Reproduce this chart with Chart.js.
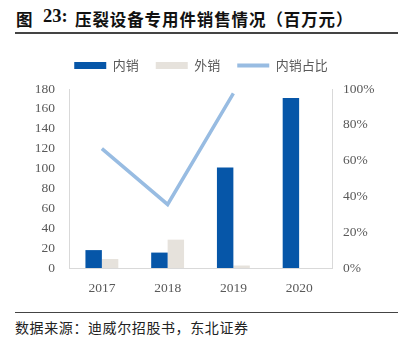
<!DOCTYPE html>
<html><head><meta charset="utf-8">
<script src="https://cdn.jsdelivr.net/npm/chart.js@4/dist/chart.umd.min.js"></script>
<style>
html,body{margin:0;padding:0;background:#fff;}
body{width:402px;height:343px;position:relative;overflow:hidden;font-family:"Noto Sans CJK SC",sans-serif;}
#title{position:absolute;left:16px;top:7px;font-size:16.5px;font-weight:700;color:#111;white-space:nowrap;}
#title span{position:absolute;top:0;}
#title .num{font-family:"Liberation Serif",serif;font-size:18.5px;top:-1px;}
#tline{position:absolute;left:15px;top:32px;width:383px;height:2px;background:#444;}
#bline{position:absolute;left:15px;top:312px;width:383px;height:1px;background:#444;}
#src{position:absolute;left:15px;top:317px;font-size:14px;letter-spacing:0.6px;color:#222;white-space:nowrap;}
#wrap{position:absolute;left:0;top:42px;width:402px;height:258px;}
</style></head>
<body>
<div id="title"><span style="left:0">图</span><span class="num" style="left:27px">23:</span><span style="left:59px;letter-spacing:0.9px">压裂设备专用件销售情况（百万元）</span></div>
<div id="tline"></div>
<div id="wrap"><canvas id="c"></canvas></div>
<div id="bline"></div>
<div id="src">数据来源：迪威尔招股书，东北证券</div>
<script>
const categories = ['2017','2018','2019','2020'];
const domesticSales = [18, 15.5, 101, 171];
const exportSales = [9, 28.5, 2.5, 0];
const domesticShare = [0.667, 0.355, 0.975, null];
const leftTicks = [0,20,40,60,80,100,120,140,160,180];
const rightTicks = [0,0.2,0.4,0.6,0.8,1.0];

const C_DOM = '#0656A8', C_EXP = '#E6E2DC', C_LINE = '#98BCE2';
const tickFont = {family:'"Liberation Serif", serif', size:13.5};
const legendExtra = {
  id:'legendExtra',
  afterInit(chart){
    const lg = chart.legend; const f = lg.fit;
    lg.fit = function(){ f.call(this); this.height += 7; };
  }
};
new Chart(document.getElementById('c'), {
  data:{
    labels: categories,
    datasets:[
      {type:'line', label:'内销占比', data: domesticShare, yAxisID:'y1', borderColor:C_LINE, backgroundColor:C_LINE, borderWidth:3.5, pointRadius:0, tension:0, order:0},
      {type:'bar', label:'内销', data: domesticSales, yAxisID:'y', backgroundColor:C_DOM, categoryPercentage:0.5, barPercentage:1.0, order:1},
      {type:'bar', label:'外销', data: exportSales, yAxisID:'y', backgroundColor:C_EXP, categoryPercentage:0.5, barPercentage:1.0, order:1}
    ]
  },
  options:{
    responsive:true, maintainAspectRatio:false, animation:false,
    layout:{padding:{left:0,right:0,top:0,bottom:0}},
    plugins:{
      tooltip:{enabled:false},
      legend:{
        position:'top',
        labels:{
          font:{family:'"Noto Sans CJK SC", sans-serif', size:13}, color:'#595959',
          usePointStyle:true, pointStyleWidth:32, boxWidth:32, boxHeight:7, padding:17,
          sort:(a,b)=>({'内销':0,'外销':1,'内销占比':2}[a.text]-({'内销':0,'外销':1,'内销占比':2}[b.text])),
          generateLabels(chart){
            return chart.data.datasets.map((ds,i)=>({
              text: ds.label, datasetIndex:i, fontColor:'#595959',
              pointStyle: ds.type==='line' ? 'line' : 'rect',
              fillStyle: ds.type==='line' ? 'rgba(0,0,0,0)' : ds.backgroundColor,
              strokeStyle: ds.type==='line' ? ds.borderColor : ds.backgroundColor,
              lineWidth: ds.type==='line' ? 4 : 0, hidden:false
            }));
          }
        }
      }
    },
    scales:{
      x:{
        grid:{display:false, drawTicks:false},
        border:{display:true, color:'#D9D9D9', width:1},
        ticks:{font:tickFont, color:'#595959', padding:12},
        afterFit(s){ s.height = 32; }
      },
      y:{
        position:'left', min:0, max:180,
        afterBuildTicks(s){ s.ticks = leftTicks.map(v=>({value:v})); },
        grid:{display:false, drawTicks:false},
        border:{display:true, color:'#D9D9D9', width:1},
        ticks:{font:tickFont, color:'#595959', padding:14},
        afterFit(s){ s.width = 69; }
      },
      y1:{
        position:'right', min:0, max:1,
        afterBuildTicks(s){ s.ticks = rightTicks.map(v=>({value:v})); },
        grid:{display:false, drawOnChartArea:false, drawTicks:true, tickLength:4, color:'#D9D9D9'},
        border:{display:true, color:'#D9D9D9', width:1},
        ticks:{font:tickFont, color:'#595959', padding:7, callback:v=>Math.round(v*100)+'%'},
        afterFit(s){ s.width = 70; }
      }
    }
  },
  plugins:[legendExtra]
});
</script>
</body></html>
